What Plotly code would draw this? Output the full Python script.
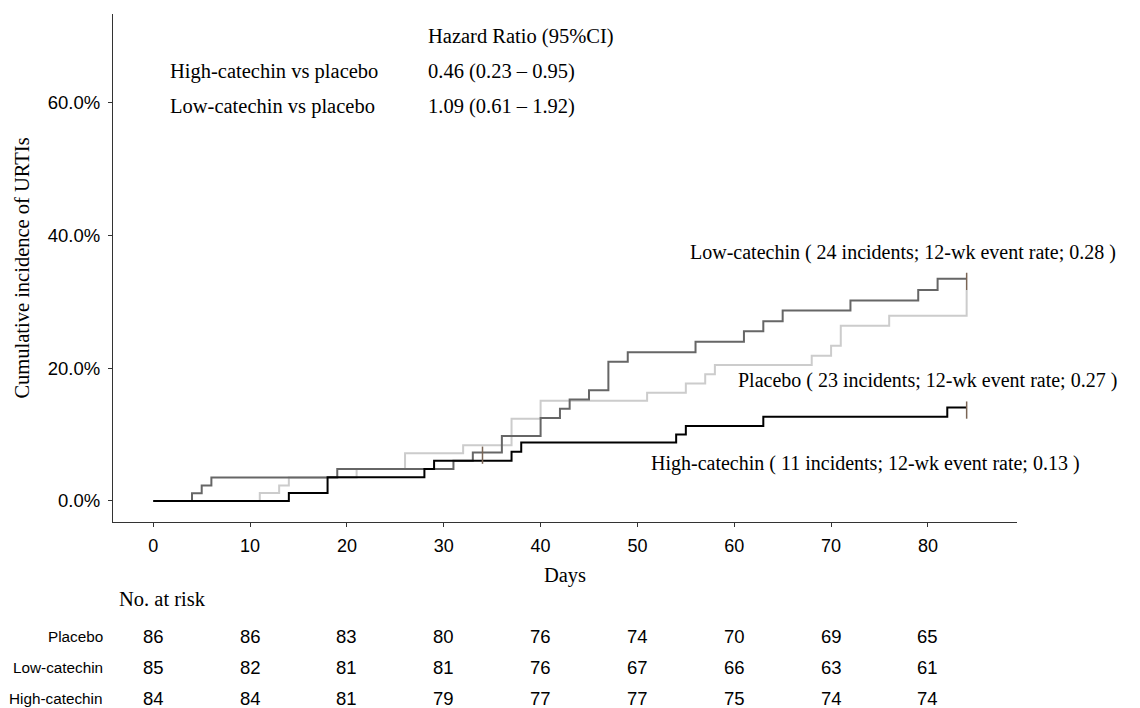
import plotly.graph_objects as go

# ---------------- data ----------------
placebo_days = [0, 11, 13, 14, 21, 26, 32, 37, 40, 51, 55, 57, 58, 68, 70, 71, 76, 84, 84]
placebo_pct = [0, 1.2, 2.35, 3.55, 4.8, 7.2, 8.4, 12.4, 15.1, 16.3, 17.7, 19.1, 20.5, 21.9, 23.4, 26.4, 27.9, 27.9, 31.8]

low_days = [0, 4, 5, 6, 19, 31, 33, 36, 40, 42, 43, 45, 47, 49, 56, 61, 63, 65, 72, 79, 81, 84]
low_pct = [0, 1.18, 2.35, 3.53, 4.8, 6.07, 7.3, 9.8, 12.5, 13.9, 15.3, 16.7, 21.0, 22.4, 24.0, 25.6, 27.1, 28.7, 30.2, 31.8, 33.5, 33.5]

high_days = [0, 14, 18, 28, 29, 37, 38, 54, 55, 63, 82, 84]
high_pct = [0, 1.19, 3.57, 4.8, 6.07, 7.4, 8.8, 10.0, 11.3, 12.7, 14.1, 14.1]

# censored observations (day, cumulative incidence %)
censor_days = [34, 84, 84]
censor_pct = [7.3, 33.5, 14.1]

risk_times = [0, 10, 20, 30, 40, 50, 60, 70, 80]
risk_groups = ["Placebo", "Low-catechin", "High-catechin"]
risk_placebo = [86, 86, 83, 80, 76, 74, 70, 69, 65]
risk_low = [85, 82, 81, 81, 76, 67, 66, 63, 61]
risk_high = [84, 84, 81, 79, 77, 77, 75, 74, 74]

hr_labels = ["High-catechin vs placebo", "Low-catechin vs placebo"]
hr_values = ["0.46 (0.23 \u2013 0.95)", "1.09 (0.61 \u2013 1.92)"]

curve_labels = {
    "low": "Low-catechin ( 24 incidents; 12-wk event rate; 0.28 )",
    "placebo": "Placebo ( 23 incidents; 12-wk event rate; 0.27 )",
    "high": "High-catechin ( 11 incidents; 12-wk event rate; 0.13 )",
}

# ---------------- styling ----------------
SERIF = "Liberation Serif, Times New Roman, serif"
SANS = "Liberation Sans, Arial, sans-serif"
C_PLACEBO = "#cccccc"
C_LOW = "#666666"
C_HIGH = "#000000"
C_CENSOR = "#7a6555"

fig = go.Figure()

def frac(v):
    return [p / 100.0 for p in v]

for days, pct, col in [(placebo_days, placebo_pct, C_PLACEBO),
                       (low_days, low_pct, C_LOW),
                       (high_days, high_pct, C_HIGH)]:
    fig.add_trace(go.Scatter(x=days, y=frac(pct), mode="lines",
                             line=dict(color=col, width=2, shape="hv"),
                             hoverinfo="skip", showlegend=False))

# censor ticks
cx, cy = [], []
for d, p in zip(censor_days, censor_pct):
    cx += [d, d, None]
    cy += [(p + 0.9) / 100, (p - 1.7) / 100, None]
fig.add_trace(go.Scatter(x=cx, y=cy, mode="lines",
                         line=dict(color=C_CENSOR, width=1.5),
                         hoverinfo="skip", showlegend=False))

ann = []
serif_font = dict(family=SERIF, size=20.5, color="black")

# hazard ratio block
ann.append(dict(x=28.2, y=0.700, xref="x", yref="y", text="Hazard Ratio (95%CI)",
                showarrow=False, xanchor="left", yanchor="middle", font=serif_font))
for i, (lab, val) in enumerate(zip(hr_labels, hr_values)):
    yy = 0.647 - i * 0.053
    ann.append(dict(x=1.5, y=yy, xref="x", yref="y", text=lab, showarrow=False,
                    xanchor="left", yanchor="middle", font=serif_font))
    ann.append(dict(x=28.2, y=yy, xref="x", yref="y", text=val, showarrow=False,
                    xanchor="left", yanchor="middle", font=serif_font))

# curve labels
lab_font = dict(family=SERIF, size=20, color="black")
ann.append(dict(x=55.2, y=0.374, xref="x", yref="y", text=curve_labels["low"],
                showarrow=False, xanchor="left", yanchor="middle", font=lab_font))
ann.append(dict(x=60.2, y=0.182, xref="x", yref="y", text=curve_labels["placebo"],
                showarrow=False, xanchor="left", yanchor="middle", font=lab_font))
ann.append(dict(x=51.2, y=0.057, xref="x", yref="y", text=curve_labels["high"],
                showarrow=False, xanchor="left", yanchor="middle", font=lab_font))

# risk table
ann.append(dict(x=0.0044, y=-0.152, xref="paper", yref="paper", text="No. at risk",
                showarrow=False, xanchor="left", yanchor="middle", font=serif_font))
row_y = [-0.226, -0.287, -0.348]
for g, vals, yy in zip(risk_groups, [risk_placebo, risk_low, risk_high], row_y):
    ann.append(dict(x=-0.009, y=yy, xref="paper", yref="paper", text=g, showarrow=False,
                    xanchor="right", yanchor="middle",
                    font=dict(family=SANS, size=15.3, color="black")))
    for t, v in zip(risk_times, vals):
        ann.append(dict(x=t, y=yy, xref="x", yref="paper", text=str(v), showarrow=False,
                        xanchor="center", yanchor="middle",
                        font=dict(family=SANS, size=18.5, color="black")))

# the page body adds an 8px offset, so the figure is sized/margined to compensate
fig.update_layout(
    width=1132, height=700,
    margin=dict(l=105, r=123, t=6, b=186),
    paper_bgcolor="white", plot_bgcolor="white",
    annotations=ann,
    xaxis=dict(range=[-4.16, 89.2], tickmode="array", tickvals=risk_times,
               showline=True, linecolor="#333333", linewidth=1.2,
               ticks="outside", ticklen=4, tickcolor="#333333",
               ticklabelstandoff=3,
               showgrid=False, zeroline=False,
               tickfont=dict(family=SANS, size=18, color="black"),
               title=dict(text="Days", font=dict(family=SERIF, size=20.5, color="black"),
                          standoff=12)),
    yaxis=dict(range=[-0.0317, 0.734], tickmode="array", tickvals=[0, 0.2, 0.4, 0.6],
               tickformat=".1%",
               showline=True, linecolor="#333333", linewidth=1.2,
               ticks="outside", ticklen=4, tickcolor="#333333",
               ticklabelstandoff=4,
               showgrid=False, zeroline=False,
               tickfont=dict(family=SANS, size=18.5, color="black"),
               title=dict(text="Cumulative incidence of URTIs",
                          font=dict(family=SERIF, size=20.5, color="black"),
                          standoff=12)),
)

fig.write_html("out.html")
